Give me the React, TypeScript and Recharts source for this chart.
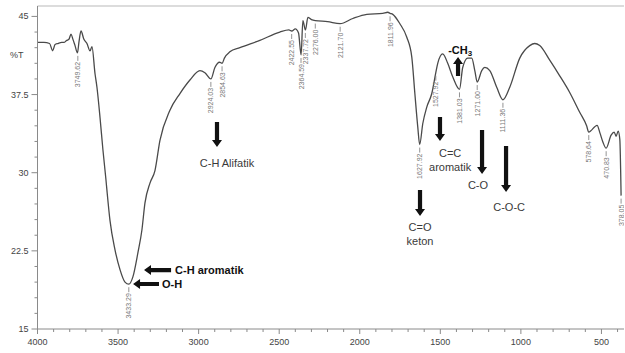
import { ComposedChart, Line, ReferenceLine, Scatter, XAxis, YAxis } from 'recharts';

// FTIR spectrum, wavenumber (cm-1) vs %T
const wavenumbers = [
  4000, 3960, 3925, 3906, 3891, 3873, 3850, 3836, 3819, 3805, 3792, 3780, 3767, 3752, 3743,
  3730, 3712, 3693, 3674, 3662, 3643, 3631, 3612, 3594, 3575, 3569, 3550, 3519, 3488, 3457,
  3433, 3408, 3377, 3352, 3333, 3302, 3271, 3240, 3178, 3116, 3054, 2992, 2961, 2924, 2899,
  2870, 2854, 2840, 2806, 2744, 2620, 2496, 2440, 2422, 2400, 2380, 2364, 2353, 2337, 2322,
  2300, 2276, 2200, 2122, 2043, 1956, 1857, 1826, 1812, 1795, 1751, 1708, 1677, 1658, 1640,
  1628, 1609, 1584, 1553, 1528, 1516, 1485, 1454, 1423, 1381, 1361, 1330, 1305, 1286, 1271,
  1243, 1224, 1193, 1150, 1111, 1069, 1007, 945, 914, 883, 821, 759, 697, 635, 592,
  579, 527, 509, 490, 471, 440, 421, 409, 396, 386, 378,
];
const transmittance = [
  42.5, 42.5, 42.4, 41.7, 42.3, 42.4, 42.5, 42.5, 42.7, 42.8, 43.3, 42.8, 42.2, 41.5, 42.5,
  43.6, 42.8, 42.4, 41.7, 42.1, 39.5, 38.2, 35.3, 32.2, 29.3, 28.3, 25.4, 22.6, 20.7, 19.5,
  19.3, 20.0, 22.3, 24.5, 27.1, 29.0, 30.2, 33.1, 36.0, 37.6, 38.9, 39.8, 39.6, 39.0, 40.1,
  40.6, 40.5, 41.0, 41.6, 42.0, 42.7, 43.5, 43.7, 43.6, 43.8, 43.4, 41.3, 44.6, 43.7, 44.9,
  44.7, 44.6, 44.5, 44.3, 44.8, 45.2, 45.3, 45.4, 45.3, 45.2, 44.3, 43.0, 41.1, 37.6, 34.4,
  32.7, 34.7, 36.3, 37.6, 39.6, 40.5, 41.4, 40.5, 39.2, 38.0, 40.1, 41.0, 41.0, 39.8, 38.7,
  39.8, 40.1, 39.8, 38.2, 37.0, 38.2, 41.0, 42.2, 42.4, 42.2, 40.8, 39.3, 37.7, 35.8, 34.5,
  33.9, 34.55, 33.8, 32.9, 32.35, 33.6, 33.9, 33.5, 34.0, 33.2, 27.8,
];

// peak markers
const peakWn = [3749.62, 3433.29, 2924.03, 2854.63, 2422.55, 2364.59, 2337.72, 2276.0, 2121.7, 1811.96, 1627.92, 1527.92, 1381.03, 1271.0, 1111.36, 578.64, 470.83, 378.05];
const peakT = [41.5, 19.3, 39.0, 40.5, 43.6, 41.3, 43.7, 44.6, 44.3, 45.3, 32.7, 39.6, 38.0, 38.7, 37.0, 33.9, 32.35, 27.8];

// annotation texts
const noteText = ['C-H Alifatik', 'C=O', 'keton', 'C=C', 'aromatik', '-CH3', 'C-O', 'C-O-C', 'C-H aromatik', 'O-H'];
const noteWn = [2824, 1626, 1626, 1439, 1439, 1377, 1266, 1073, 3146, 3227];
const noteT = [30.93, 24.79, 23.45, 31.89, 30.55, 41.78, 28.82, 26.71, 20.66, 19.32];
const noteBold = [false, false, false, false, false, true, false, false, true, true];
const noteStart = [false, false, false, false, false, false, false, false, true, true];

// arrows: tail -> head
const arrowFromWn = [2886, 1626, 1502, 1390, 1241, 1092, 3171, 3246];
const arrowFromT = [34.87, 28.34, 35.35, 39.28, 34.1, 32.56, 20.66, 19.32];
const arrowToWn = [2886, 1626, 1502, 1390, 1241, 1092, 3339, 3407];
const arrowToT = [32.47, 25.84, 33.04, 41.1, 29.88, 28.15, 20.66, 19.32];

const xTicks = Array.from({ length: 37 }, (_, i) => 4000 - i * 100);
const yTicks = Array.from({ length: 21 }, (_, i) => 15 + i * 1.5);
const yMajorLabels: Record<string, string> = { '15': '15', '22.5': '22.5', '30': '30', '37.5': '37.5', '45': '45' };

const FONT = '"Liberation Sans", Arial, sans-serif';
const AXIS = '#8a8a8a';

const spectrum = wavenumbers.map((wn, i) => ({ wn, t: transmittance[i] }));
const peaks = peakWn.map((wn, i) => ({ wn, t: peakT[i], label: wn.toFixed(2) }));
const notes = noteText.map((text, i) => ({ wn: noteWn[i], t: noteT[i], text, bold: noteBold[i], start: noteStart[i] }));

function XTick(props: any) {
  const { x, y, payload } = props;
  const major = payload.value % 500 === 0;
  return (
    <g>
      <line x1={x} y1={y} x2={x} y2={y + (major ? 5 : 3)} stroke={AXIS} strokeWidth={1} />
      {major && (
        <text x={x} y={y + 13} textAnchor="middle" dominantBaseline="central" fontSize={9} fill="#444" fontFamily={FONT}>
          {payload.value}
        </text>
      )}
    </g>
  );
}

function YTick(props: any) {
  const { x, y, payload } = props;
  const key = String(Math.round(payload.value * 10) / 10);
  const label = yMajorLabels[key];
  return (
    <g>
      <line x1={x - (label ? 6 : 3)} y1={y} x2={x} y2={y} stroke={AXIS} strokeWidth={1} />
      {label && (
        <text x={x - 9} y={y} textAnchor="end" dominantBaseline="central" fontSize={9} fill="#444" fontFamily={FONT}>
          {label}
        </text>
      )}
    </g>
  );
}

function PeakLabel(props: any) {
  const { cx, cy, payload } = props;
  if (cx == null || cy == null) return null;
  const top = cy + 3;
  return (
    <g>
      <line x1={cx} y1={top} x2={cx} y2={top + 5} stroke="#777" strokeWidth={0.8} />
      <text
        x={cx}
        y={top + 6}
        transform={`rotate(-90 ${cx} ${top + 6})`}
        textAnchor="end"
        dominantBaseline="central"
        fontSize={7}
        fill="#777"
        fontFamily={FONT}
      >
        {payload.label}
      </text>
    </g>
  );
}

function NoteLabel(props: any) {
  const { cx, cy, payload } = props;
  if (cx == null || cy == null) return null;
  const common = {
    x: cx,
    y: cy,
    textAnchor: payload.start ? 'start' : 'middle',
    dominantBaseline: 'central',
    fontSize: 11,
    fontFamily: FONT,
    fontWeight: payload.bold ? 700 : 400,
    fill: payload.bold ? '#111' : '#3a3a3a',
  } as any;
  if (payload.text === '-CH3') {
    return (
      <text {...common}>
        -CH
        <tspan fontSize={8} dy={3}>3</tspan>
      </text>
    );
  }
  return <text {...common}>{payload.text}</text>;
}

function ArrowShape(props: any) {
  const { x1, y1, x2, y2 } = props;
  if ([x1, y1, x2, y2].some((v) => v == null || Number.isNaN(v))) return null;
  const dx = x2 - x1;
  const dy = y2 - y1;
  const len = Math.hypot(dx, dy) || 1;
  const ux = dx / len;
  const uy = dy / len;
  const px = -uy;
  const py = ux;
  const hl = 7;
  const hw = 5;
  const sw = 2.1;
  const bx = x2 - ux * hl;
  const by = y2 - uy * hl;
  const pts = [
    [x1 + px * sw, y1 + py * sw],
    [bx + px * sw, by + py * sw],
    [bx + px * hw, by + py * hw],
    [x2, y2],
    [bx - px * hw, by - py * hw],
    [bx - px * sw, by - py * sw],
    [x1 - px * sw, y1 - py * sw],
  ];
  return <polygon points={pts.map((p) => p.join(',')).join(' ')} fill="#111" />;
}

export default function App() {
  return (
    <div style={{ position: 'absolute', left: 0, top: 0, width: 625, height: 353, background: '#fff' }}>
      <ComposedChart width={625} height={353} margin={{ top: 6, right: 1, bottom: 0, left: 0 }}>
        <XAxis
          type="number"
          dataKey="wn"
          domain={[360, 4000]}
          reversed
          allowDataOverflow
          ticks={xTicks}
          interval={0}
          tick={<XTick />}
          tickSize={0}
          tickMargin={0}
          tickLine={false}
          axisLine={{ stroke: AXIS }}
          height={24}
        />
        <YAxis
          type="number"
          dataKey="t"
          domain={[15, 46]}
          allowDataOverflow
          ticks={yTicks}
          interval={0}
          tick={<YTick />}
          tickSize={0}
          tickMargin={0}
          tickLine={false}
          axisLine={{ stroke: AXIS }}
          width={37.5}
          label={(p: any) => (
            <text x={p.viewBox.x + 10} y={p.viewBox.y + 49} dominantBaseline="central" fontSize={9} fill="#444" fontFamily={FONT}>
              %T
            </text>
          )}
        />
        <ReferenceLine y={46} stroke="#d0d0d0" strokeWidth={1.5} />
        <Line
          data={spectrum}
          dataKey="t"
          type="monotone"
          stroke="#4a4a4a"
          strokeWidth={1.3}
          dot={false}
          activeDot={false}
          isAnimationActive={false}
        />
        <Scatter data={peaks} dataKey="t" shape={<PeakLabel />} isAnimationActive={false} />
        <Scatter data={notes} dataKey="t" shape={<NoteLabel />} isAnimationActive={false} />
        {arrowFromWn.map((wn, i) => (
          <ReferenceLine
            key={i}
            segment={[
              { x: wn, y: arrowFromT[i] },
              { x: arrowToWn[i], y: arrowToT[i] },
            ]}
            shape={(p: any) => <ArrowShape {...p} />}
          />
        ))}
      </ComposedChart>
    </div>
  );
}
